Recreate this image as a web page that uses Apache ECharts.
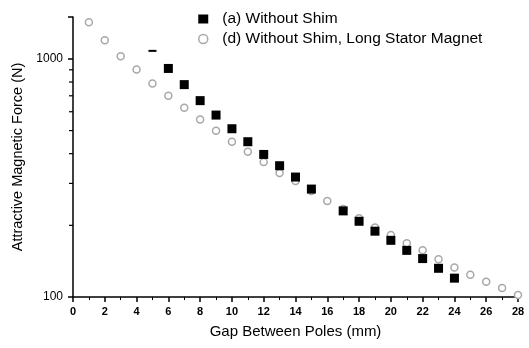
<!DOCTYPE html>
<html>
<head>
<meta charset="utf-8">
<script src="https://cdn.jsdelivr.net/npm/echarts@6/dist/echarts.min.js"></script>
<style>html,body{margin:0;padding:0;background:#fff}#c{width:529px;height:348px}</style>
</head>
<body>
<div id="c"></div>
<script>
// ---- data ----
var xTicks = [0, 2, 4, 6, 8, 10, 12, 14, 16, 18, 20, 22, 24, 26, 28];
var gapA = [5, 6, 7, 8, 9, 10, 11, 12, 13, 14, 15, 17, 18, 19, 20, 21, 22, 23, 24];
var forceA = [1081, 912, 780, 668, 581, 509, 449, 397, 356, 319, 284, 230, 208, 189, 173, 157, 145, 132, 120];
var gapD = [1, 2, 3, 4, 5, 6, 7, 8, 9, 10, 11, 12, 13, 14, 15, 16, 17, 18, 19, 20, 21, 22, 23, 24, 25, 26, 27, 28];
var forceD = [1426, 1197, 1026, 903, 789, 701, 624, 556, 499, 449, 407, 369, 332, 307, 279, 253, 234, 214, 196, 182, 168, 157, 144, 133, 124, 116, 109, 102];
var yMinorTicks = [200, 300, 400, 500, 600, 700, 800, 900];
var nameA = '(a) Without Shim';
var nameD = '(d) Without Shim, Long Stator Magnet';

var FONT = 'Liberation Sans, Arial, sans-serif';
var GREY = '#a8a8a8';
var dataA = gapA.map(function (g, i) {
  var item = { value: [g, forceA[i]] };
  if (i === 0) { item.symbolSize = [8, 2]; }
  return item;
});
var dataD = gapD.map(function (g, i) { return [g, forceD[i]]; });

var chart = echarts.init(document.getElementById('c'));
chart.setOption({
  animation: false,
  backgroundColor: '#fff',
  textStyle: { fontFamily: FONT },
  grid: { left: 73, right: 11, top: 17, bottom: 51 },
  legend: {
    orient: 'vertical',
    left: 193,
    top: 6,
    itemGap: 4,
    itemWidth: 10,
    itemHeight: 9,
    textStyle: { fontFamily: FONT, fontSize: 15.5, color: '#000', padding: [0, 0, 0, 9] },
    data: [
      { name: nameA, icon: 'rect', itemStyle: { color: '#000', opacity: 1 } },
      { name: nameD, icon: 'circle', itemStyle: { color: '#fff', borderColor: GREY, borderWidth: 1.5 } }
    ]
  },
  xAxis: {
    type: 'value',
    min: 0, max: 28, interval: 2,
    name: 'Gap Between Poles (mm)',
    nameLocation: 'middle',
    nameGap: 27,
    nameTextStyle: { fontFamily: FONT, fontSize: 15, color: '#000' },
    axisLine: { lineStyle: { color: '#000', width: 1.5 } },
    axisTick: { length: 5, lineStyle: { color: '#000', width: 1.5 } },
    minorTick: { show: true, splitNumber: 2, length: 3, lineStyle: { color: '#000' } },
    axisLabel: { fontFamily: FONT, fontSize: 11, color: '#000', fontWeight: 'bold', margin: 9,
      formatter: function (v) { return xTicks.indexOf(v) >= 0 ? String(v) : ''; } },
    splitLine: { show: false }
  },
  yAxis: {
    type: 'log',
    logBase: 10,
    min: 100, max: 1500,
    name: 'Attractive Magnetic Force (N)',
    nameLocation: 'middle',
    nameGap: 44,
    nameTextStyle: { fontFamily: FONT, fontSize: 14.5, color: '#000' },
    axisLine: { show: true, lineStyle: { color: '#000', width: 1.5 } },
    axisTick: { show: true, length: 5, lineStyle: { color: '#000', width: 1.5 } },
    axisLabel: { fontFamily: FONT, fontSize: 12, color: '#000', margin: 10,
      formatter: function (v) { return (v === 100 || v === 1000) ? String(v) : ''; } },
    splitLine: { show: false }
  },
  series: [
    {
      name: nameD,
      type: 'scatter',
      symbol: 'circle',
      symbolSize: 7,
      itemStyle: { color: '#fff', borderColor: GREY, borderWidth: 1.5, opacity: 1 },
      data: dataD,
      z: 2
    },
    {
      name: nameA,
      type: 'scatter',
      symbol: 'rect',
      symbolSize: 9,
      itemStyle: { color: '#000', opacity: 1 },
      data: dataA,
      z: 3
    },
    {
      name: 'minorY',
      type: 'custom',
      silent: true,
      clip: false,
      data: yMinorTicks.map(function (v) { return [0, v]; }),
      renderItem: function (params, api) {
        var p = api.coord([api.value(0), api.value(1)]);
        return {
          type: 'line',
          shape: { x1: p[0] - 4, y1: p[1], x2: p[0], y2: p[1] },
          style: { stroke: '#000', lineWidth: 1.2 }
        };
      },
      z: 5
    }
  ]
});
</script>
</body>
</html>
